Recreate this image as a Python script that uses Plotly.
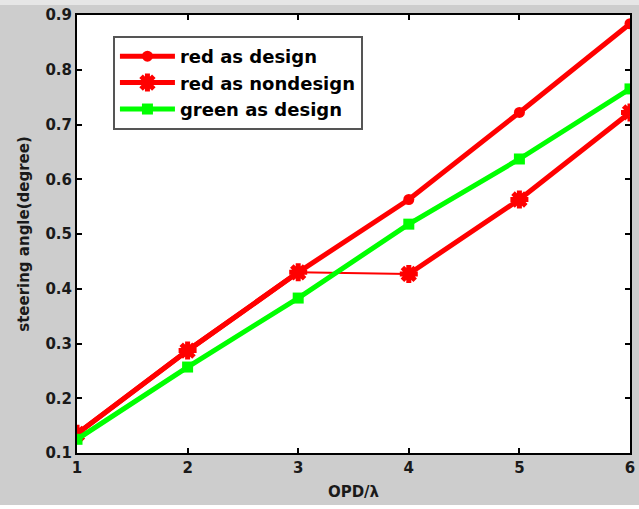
import plotly.graph_objects as go

opd = [1, 2, 3, 4, 5, 6]
red_design = [0.135, 0.287, 0.430, 0.563, 0.722, 0.884]
red_nondesign = [0.135, 0.287, 0.430, 0.427, 0.563, 0.722]
green_design = [0.125, 0.257, 0.383, 0.518, 0.637, 0.765]
x_ticks = [1, 2, 3, 4, 5, 6]
y_ticks = [0.1, 0.2, 0.3, 0.4, 0.5, 0.6, 0.7, 0.8, 0.9]

RED = "#ff0000"
GREEN = "#00ff00"

fig = go.Figure()

fig.add_trace(go.Scatter(
    x=opd, y=red_design, mode="lines+markers", name="red as design",
    line=dict(color=RED, width=5),
    marker=dict(symbol="circle", size=11, color=RED),
))
# thin segment of the nondesign curve between x=3 and x=4
fig.add_trace(go.Scatter(
    x=opd[2:4], y=red_nondesign[2:4], mode="lines", showlegend=False,
    line=dict(color=RED, width=2), hoverinfo="skip",
))
nd_x = opd[:3] + [None] + opd[3:]
nd_y = red_nondesign[:3] + [None] + red_nondesign[3:]
fig.add_trace(go.Scatter(
    x=nd_x, y=nd_y, mode="lines+markers", name="red as nondesign",
    line=dict(color=RED, width=5), connectgaps=False,
    marker=dict(symbol="asterisk-open", size=15, color=RED,
                line=dict(color=RED, width=5)),
))
fig.add_trace(go.Scatter(
    x=opd, y=green_design, mode="lines+markers", name="green as design",
    line=dict(color=GREEN, width=5),
    marker=dict(symbol="square", size=11, color=GREEN),
))

axis_common = dict(
    showline=True, linecolor="black", linewidth=2, mirror="ticks",
    ticks="inside", ticklen=5, tickwidth=2, tickcolor="black",
    showgrid=False, zeroline=False, automargin=False,
    tickfont=dict(family="DejaVu Sans", size=15, color="#1a1a1a", weight="bold"),
)
title_font = dict(family="DejaVu Sans", size=15, color="#1a1a1a", weight="bold")

fig.update_layout(
    width=639, height=509,
    margin=dict(l=77, r=9, t=15, b=56, autoexpand=False),
    paper_bgcolor="#cdcdcd",
    plot_bgcolor="white",
    showlegend=True,
    legend=dict(
        x=0.065, y=0.952, xanchor="left", yanchor="top",
        bgcolor="white", bordercolor="#555555", borderwidth=2,
        font=dict(family="DejaVu Sans", size=18, color="black", weight="bold"),
        itemwidth=55, tracegroupgap=0,
        entrywidth=270, entrywidthmode="pixels",
    ),
    xaxis=dict(
        range=[1, 6], tickvals=x_ticks, ticktext=[str(v) for v in x_ticks],
        title=dict(text="OPD/λ", standoff=10, font=title_font),
        **axis_common,
    ),
    yaxis=dict(
        range=[0.1, 0.9], tickvals=y_ticks, ticktext=[f"{v:.1f}" for v in y_ticks],
        title=dict(text="steering angle(degree)", standoff=12, font=title_font),
        **axis_common,
    ),
    shapes=[
        dict(type="rect", xref="paper", yref="paper", x0=-0.2, x1=1.1,
             y0=1.0 + 10 / 438, y1=1.2, fillcolor="#e6e6e6", line=dict(width=0),
             layer="below"),
        dict(type="rect", xref="paper", yref="paper", x0=-0.2, x1=1.1,
             y0=-0.2, y1=-52 / 438, fillcolor="white", line=dict(width=0),
             layer="below"),
    ],
)

fig.write_html(
    "out.html",
    config={"displayModeBar": False},
    post_script="document.body.style.margin='0';document.body.style.padding='0';",
)
